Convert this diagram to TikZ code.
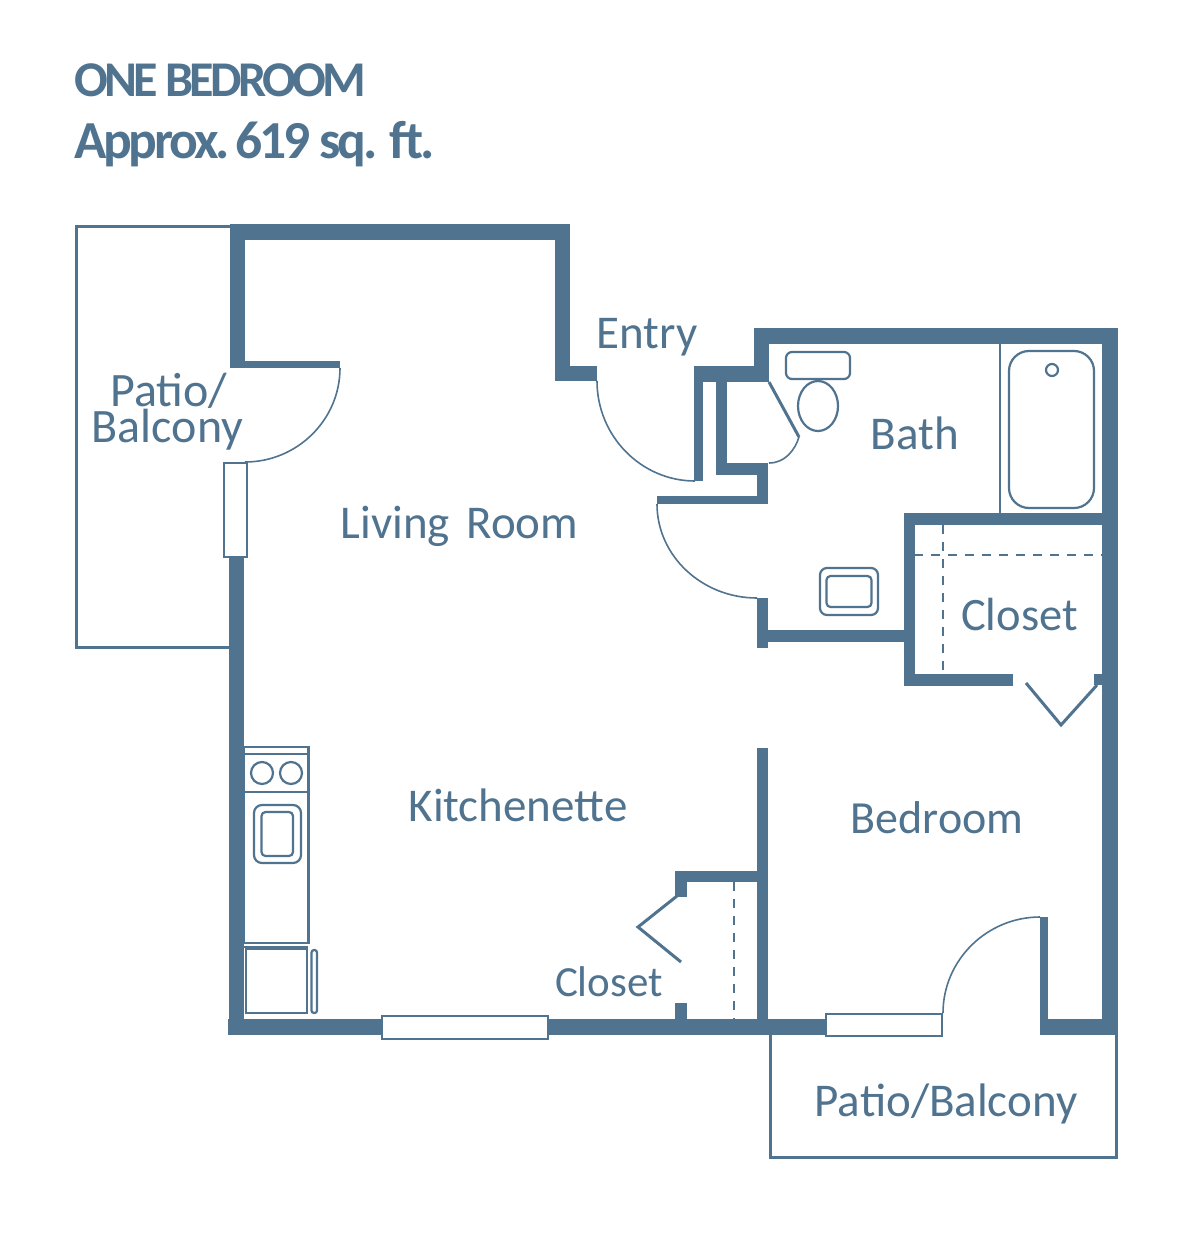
\documentclass[tikz,border=0pt]{standalone}
\usepackage{fontspec}
\setmainfont{Carlito}
\newfontfamily\titlefont[LetterSpace=-7.5]{Carlito}
\newfontfamily\areafont[LetterSpace=-6]{Carlito}
\definecolor{plan}{HTML}{50738F}
\tikzset{
  wallpart/.style={fill=plan,draw=none},
  thin line/.style={draw=plan,line width=1.6pt},
  fixture/.style={draw=plan,line width=2.2pt},
  outline/.style={draw=plan,line width=3pt},
  windowbox/.style={draw=plan,line width=2.2pt,fill=white},
  swing/.style={draw=plan,line width=1.6pt},
  dashline/.style={draw=plan,line width=2pt,dash pattern=on 9pt off 8pt},
  leaf/.style={draw=plan,line width=3pt,line join=miter},
  roomlabel/.style={text=plan,anchor=base,inner sep=0pt,font=\fontsize{47}{47}\selectfont},
  titlelabel/.style={text=plan,anchor=base west,inner sep=0pt,font=\titlefont\bfseries\fontsize{50}{50}\selectfont},
  arealabel/.style={text=plan,anchor=base west,inner sep=0pt,font=\areafont\bfseries\fontsize{53.5}{53.5}\selectfont}
}
\newcommand{\wl}[4]{\fill[wallpart] (#1,#2) rectangle (#3,#4);}
\begin{document}
\begin{tikzpicture}[x=1pt,y=-1pt]
\useasboundingbox (0,0) rectangle (1200,1244);
\fill[white] (0,0) rectangle (1200,1244);
% balconies
\draw[outline] (230,226) -- (76.5,226) -- (76.5,647) -- (230,647);
\draw[outline] (770,1035) -- (770,1157) -- (1116.5,1157) -- (1116.5,1035);
% walls
\wl{230}{224}{570}{240}
\wl{230}{224}{245}{368}
\wl{230}{361}{340}{368}
\wl{229}{558}{244}{1035}
\wl{555}{224}{570}{381}
\wl{555}{366}{597}{381}
\wl{694}{366}{769}{382}
\wl{694}{366}{702.5}{481}
\wl{716}{382}{727}{475}
\wl{716}{463}{768}{475}
\wl{757}{463}{768}{504}
\wl{657}{496}{768}{504}
\wl{754}{328}{769}{382}
\wl{754}{328}{1118}{344}
\wl{1102}{328}{1118}{1035}
\wl{904}{513}{1103}{525}
\wl{904}{513}{914.5}{686}
\wl{904}{674}{1013}{686}
\wl{1094}{674}{1104}{685}
\wl{757}{598}{768}{648}
\wl{768}{630}{904}{642}
\wl{757}{748}{768}{1035}
\wl{675}{871}{760}{882}
\wl{675}{871}{687}{897}
\wl{675}{1003}{687}{1020}
\wl{228}{1019}{825}{1035}
\wl{1040}{917}{1048}{1035}
\wl{1040}{1019}{1118}{1035}
% windows
\draw[windowbox] (224,463) rectangle (247,557);
\draw[windowbox] (382,1016) rectangle (548,1039);
\draw[windowbox] (826,1014) rectangle (942,1036);
% door swings
\draw[swing] (340,368) .. controls (340,420) and (297,462) .. (245,462);
\draw[swing] (597,381) .. controls (597,436) and (641,481) .. (695,481);
\draw[swing] (657,504) .. controls (657,556) and (702,598) .. (757,598);
\draw[swing] (1040,917) .. controls (987,917) and (943,960) .. (943,1013);
\draw[swing] (799,437) .. controls (795,450) and (785,463) .. (769,463);
% leaves
\draw[leaf] (769,382) -- (799,437);
\draw[leaf] (1026,683) -- (1061,725) -- (1097,685);
\draw[leaf] (677,896) -- (638,927) -- (681,962);
% dashed
\draw[dashline] (914,555) -- (1103,555);
\draw[dashline] (943,525) -- (943,674);
\draw[dashline] (733.5,882) -- (733.5,1019);
% bath fixtures
\draw[thin line] (1000,344) -- (1000,513);
\draw[fixture,rounded corners=20pt] (1009,351) rectangle (1094,508);
\draw[fixture] (1052,370) circle (6);
\draw[fixture,rounded corners=6pt] (786,352) rectangle (850,379);
\draw[fixture] (818,406) ellipse (20 and 25);
\draw[fixture,rounded corners=7pt] (820,568) rectangle (878,615);
\draw[fixture,rounded corners=4pt] (826.5,576) rectangle (871.5,607);
% kitchen
\draw[fixture] (244,747) rectangle (308.5,792);
\draw[fixture] (244,754) -- (308.5,754);
\draw[fixture] (262,773) circle (11);
\draw[fixture] (291,773) circle (11);
\draw[fixture] (244,792) rectangle (308.5,943);
\draw[fixture,rounded corners=8pt] (254,805) rectangle (301,863);
\draw[fixture,rounded corners=4pt] (261.5,812) rectangle (293,856);
\draw[fixture] (244,947) -- (308,947);
\draw[fixture] (246,949) rectangle (307,1013);
\draw[fixture,rounded corners=2.5pt] (311.5,950) rectangle (317,1013);
% labels
\node[titlelabel] (title) at (74,97) {ONE BEDROOM};
\node[arealabel] (area) at (74,158) {Approx.\hspace{-6pt} 619 sq. ft.};
\node[roomlabel] (entry) at (647,348) {Entry};
\node[roomlabel] (bath) at (915,449) {Bath};
\node[roomlabel,align=center,anchor=north,font=\fontsize{48}{36}\selectfont] (patioa) at (167.5,373) {\hspace{3pt}Patio/\\Balcony};
\node[roomlabel] (living) at (459.5,538) {Living\hspace{6pt} Room};
\node[roomlabel,font=\fontsize{46.5}{46.5}\selectfont] (closeta) at (1019.5,630) {Closet};
\node[roomlabel] (kitchen) at (518,821) {Kitchenette};
\node[roomlabel,font=\fontsize{46}{46}\selectfont] (bedroom) at (937,833) {Bedroom};
\node[roomlabel,font=\fontsize{43}{43}\selectfont] (closetb) at (609,996) {Closet};
\node[roomlabel] (patioc) at (946,1116) {Patio/Balcony};
\end{tikzpicture}
\end{document}
